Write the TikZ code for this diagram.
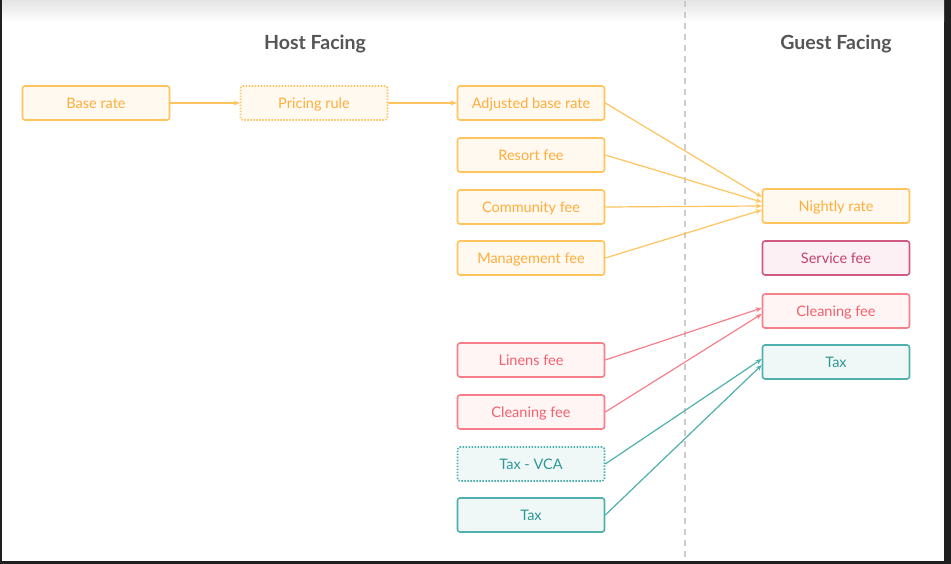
\documentclass[tikz,border=0pt]{standalone}
\usepackage{fontspec}
\setmainfont{Lato}
\usetikzlibrary{arrows.meta}

\definecolor{hostorange}{HTML}{FFC45E}
\definecolor{hostorangetxt}{HTML}{FFAD3B}
\definecolor{hostorangebg}{HTML}{FFF9F0}
\definecolor{feepink}{HTML}{F5808A}
\definecolor{feepinktxt}{HTML}{F2606C}
\definecolor{feepinkbg}{HTML}{FFF5F5}
\definecolor{servicered}{HTML}{CF5A84}
\definecolor{serviceredtxt}{HTML}{C2416F}
\definecolor{serviceredbg}{HTML}{FCF0F4}
\definecolor{taxteal}{HTML}{4FB0AE}
\definecolor{taxtealtxt}{HTML}{2E9896}
\definecolor{taxtealbg}{HTML}{EFF8F7}
\definecolor{titlegray}{HTML}{555555}

\tikzset{
  box/.style={draw, rounded corners=2.5pt, line width=1.6pt, minimum width=147pt,
    minimum height=34pt, inner sep=0pt, text depth=0pt, font=\fontsize{14.5}{16}\selectfont},
  orangebox/.style={box, draw=hostorange, fill=hostorangebg, text=hostorangetxt},
  pinkbox/.style={box, draw=feepink, fill=feepinkbg, text=feepinktxt},
  servicebox/.style={box, draw=servicered, fill=serviceredbg, text=serviceredtxt},
  tealbox/.style={box, draw=taxteal, fill=taxtealbg, text=taxtealtxt},
  dottedbox/.style={dash pattern=on 1.5pt off 1.5pt},
  link/.style={-{Stealth[length=6pt,width=5pt]}, line width=1.2pt},
  title/.style={font=\fontsize{19.5}{22}\selectfont\bfseries, text=titlegray}
}

\begin{document}
\begin{tikzpicture}[x=1pt, y=-1pt]
  \useasboundingbox (0,0) rectangle (951,564);
  % frame and background
  \fill[black!88] (0,0) rectangle (951,564);
  \fill[white] (2,1) rectangle (944,561);
  \shade[top color=black!10, bottom color=white] (2,1) rectangle (944,22);
  \draw[black!20, line width=1.3pt, dash pattern=on 6pt off 5pt] (685,1) -- (685,561);

  % titles
  \node[title] (hosttitle) at (315,44) {Host Facing};
  \node[title] (guesttitle) at (836,44) {Guest Facing};

  % host facing column
  \node[orangebox] (base) at (96,103) {Base rate};
  \node[orangebox, dottedbox] (rule) at (314,103) {Pricing rule};
  \node[orangebox] (adjusted) at (531,103) {Adjusted base rate};
  \node[orangebox] (resort) at (531,155) {Resort fee};
  \node[orangebox] (community) at (531,207) {Community fee};
  \node[orangebox] (management) at (531,258) {Management fee};
  \node[pinkbox] (linens) at (531,360) {Linens fee};
  \node[pinkbox] (hostcleaning) at (531,412) {Cleaning fee};
  \node[tealbox, dottedbox] (taxvca) at (531,464) {Tax - VCA};
  \node[tealbox] (hosttax) at (531,515) {Tax};

  % guest facing column
  \node[orangebox] (nightly) at (836,206) {Nightly rate};
  \node[servicebox] (service) at (836,258) {Service fee};
  \node[pinkbox] (guestcleaning) at (836,311) {Cleaning fee};
  \node[tealbox] (guesttax) at (836,362) {Tax};

  % connectors
  \draw[link, hostorange] (base) -- (rule);
  \draw[link, hostorange] (rule) -- (adjusted);
  \draw[link, hostorange] (adjusted.east) -- ([yshift=9pt]nightly.west);
  \draw[link, hostorange] (resort.east) -- ([yshift=4pt]nightly.west);
  \draw[link, hostorange] (community.east) -- ([yshift=0pt]nightly.west);
  \draw[link, hostorange] (management.east) -- ([yshift=-4pt]nightly.west);
  \draw[link, feepink] (linens.east) -- ([yshift=3pt]guestcleaning.west);
  \draw[link, feepink] (hostcleaning.east) -- ([yshift=-3pt]guestcleaning.west);
  \draw[link, taxteal] (taxvca.east) -- ([yshift=3pt]guesttax.west);
  \draw[link, taxteal] (hosttax.east) -- ([yshift=-3pt]guesttax.west);
\end{tikzpicture}
\end{document}
